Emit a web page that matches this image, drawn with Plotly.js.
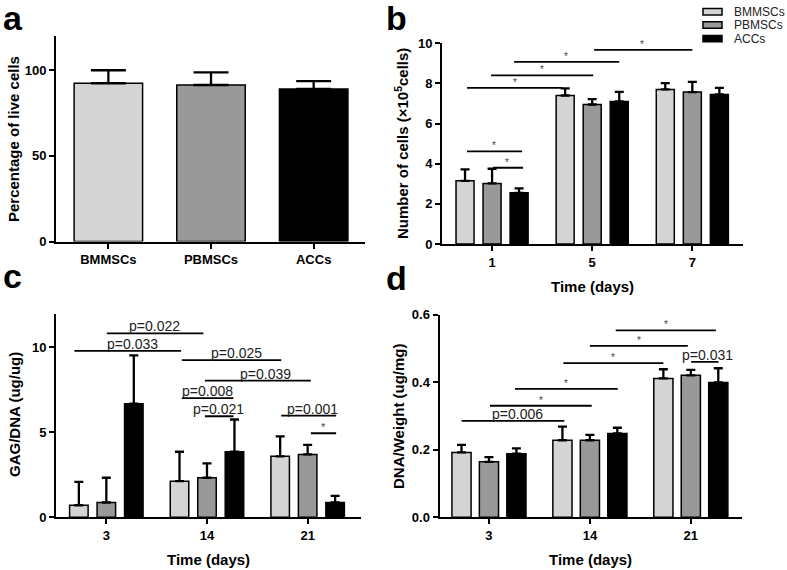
<!DOCTYPE html>
<html>
<head>
<meta charset="utf-8">
<script src="https://cdn.plot.ly/plotly-3.0.1.min.js"></script>
<style>html,body{margin:0;padding:0;background:#fff;}#chart{width:787px;height:570px;}</style>
</head>
<body>
<div id="chart"></div>
<script>
// ---------- DATA ----------
const seriesNames = ['BMMSCs', 'PBMSCs', 'ACCs'];

// Panel a: viability
const cellTypes = ['BMMSCs', 'PBMSCs', 'ACCs'];
const liveCells = [92.4, 91.4, 89.1];
const liveCellsErr = [7.6, 7.4, 4.6];

// Panel b: proliferation
const daysB = ['1', '5', '7'];
const cellsBM = [3.15, 7.4, 7.7];
const cellsPB = [3.02, 6.95, 7.57];
const cellsAC = [2.55, 7.1, 7.45];
const cellsBMErr = [0.57, 0.35, 0.32];
const cellsPBErr = [0.73, 0.27, 0.51];
const cellsACErr = [0.22, 0.48, 0.33];

// Panel c: GAG/DNA
const daysCD = ['3', '14', '21'];
const gagBM = [0.71, 2.13, 3.59];
const gagPB = [0.87, 2.33, 3.70];
const gagAC = [6.69, 3.86, 0.87];
const gagBMErr = [1.38, 1.73, 1.18];
const gagPBErr = [1.46, 0.84, 0.56];
const gagACErr = [2.85, 1.90, 0.39];

// Panel d: DNA/Weight
const dnaBM = [0.192, 0.228, 0.411];
const dnaPB = [0.164, 0.228, 0.420];
const dnaAC = [0.188, 0.248, 0.399];
const dnaBMErr = [0.022, 0.040, 0.027];
const dnaPBErr = [0.014, 0.016, 0.016];
const dnaACErr = [0.016, 0.017, 0.042];

// Significance brackets: [x0, x1, y, label, labelX]  (x in category-index units)
const sigB = [
  [-0.25, 0.70, 7.78, '*', 0.23],
  [-0.01, 1.01, 8.40, '*', 0.50],
  [0.22, 1.27, 9.07, '*', 0.74],
  [1.02, 2.00, 9.67, '*', 1.50],
  [-0.25, 0.30, 4.62, '*', 0.02],
  [0.01, 0.31, 3.80, '*', 0.15]
];
const sigC = [
  [0.005, 0.964, 10.83, 'p=0.022', 0.475],
  [-0.317, 0.743, 9.80, 'p=0.033', 0.261],
  [0.750, 1.737, 9.25, 'p=0.025', 1.290],
  [0.979, 2.032, 8.05, 'p=0.039', 1.578],
  [0.750, 1.263, 7.02, 'p=0.008', 1.006],
  [0.979, 1.263, 5.95, 'p=0.021', 1.111],
  [1.737, 2.283, 5.99, 'p=0.001', 2.045],
  [2.032, 2.283, 4.95, '*', 2.154]
];
const sigD = [
  [-0.271, 0.747, 0.285, 'p=0.006', 0.286],
  [0.010, 1.018, 0.330, '*', 0.514],
  [0.258, 1.276, 0.380, '*', 0.767],
  [0.737, 1.728, 0.456, '*', 1.232],
  [1.000, 1.970, 0.507, '*', 1.485],
  [1.256, 2.248, 0.553, '*', 1.752],
  [2.003, 2.274, 0.460, 'p=0.031', 2.162]
];

// ---------- STYLE ----------
const W = 787, H = 570;
const FONT = 'Liberation Sans, Arial, Helvetica, sans-serif';
const colors = ['#d4d4d4', '#999999', '#000000'];
const px = v => v / W;
const py = v => 1 - v / H;

function errBar(arr, w) {
  return {type: 'data', symmetric: false, array: arr, arrayminus: arr.map(() => 0),
          color: '#000', thickness: 2.3, width: w};
}

function groupTraces(xs, ys, errs, axX, axY, width, pitch) {
  return ys.map((y, i) => ({
    type: 'bar', x: xs, y: y, name: seriesNames[i],
    xaxis: axX, yaxis: axY,
    width: width, offset: (i - 1) * pitch - width / 2,
    marker: {color: colors[i], line: {color: '#000', width: 1.5}},
    error_y: errBar(errs[i], 4.5),
    showlegend: false, hoverinfo: 'skip'
  }));
}

const traces = [];
traces.push({
  type: 'bar', x: cellTypes, y: liveCells, xaxis: 'x', yaxis: 'y',
  width: 0.667,
  marker: {color: colors, line: {color: '#000', width: 1.5}},
  error_y: errBar(liveCellsErr, 17.5),
  showlegend: false, hoverinfo: 'skip'
});
traces.push(...groupTraces(daysB, [cellsBM, cellsPB, cellsAC], [cellsBMErr, cellsPBErr, cellsACErr], 'x2', 'y2', 0.18, 0.27));
traces.push(...groupTraces(daysCD, [gagBM, gagPB, gagAC], [gagBMErr, gagPBErr, gagACErr], 'x3', 'y3', 0.184, 0.273));
traces.push(...groupTraces(daysCD, [dnaBM, dnaPB, dnaAC], [dnaBMErr, dnaPBErr, dnaACErr], 'x4', 'y4', 0.19, 0.272));

const axisBase = {
  showline: true, linecolor: '#000', linewidth: 2,
  ticks: 'outside', ticklen: 5, tickwidth: 2, tickcolor: '#000',
  showgrid: false, zeroline: false, fixedrange: true,
  tickfont: {family: FONT, size: 13, weight: 'bold', color: '#000'}
};
const xa = (dom, anchor, range) => Object.assign({}, axisBase, {type: 'category', domain: dom, anchor: anchor, range: range});
const ya = (dom, anchor, range, dtick, fmt) => Object.assign({}, axisBase, {domain: dom, anchor: anchor, range: range, dtick: dtick, tick0: 0, tickformat: fmt || ''});

const shapes = [];
const annotations = [];

function addSig(list, xr, yr, pFont, starFont) {
  list.forEach(s => {
    shapes.push({type: 'line', xref: xr, yref: yr, x0: s[0], x1: s[1], y0: s[2], y1: s[2],
                 line: {color: '#000', width: 1.8}});
    const star = s[3] === '*';
    annotations.push({xref: xr, yref: yr, x: s[4], y: s[2], text: s[3], showarrow: false,
      xanchor: 'center', yanchor: 'bottom', yshift: star ? -2 : -3,
      font: {family: FONT, size: star ? starFont : pFont, color: star ? '#444' : '#222'}});
  });
}
addSig(sigB, 'x2', 'y2', 14, 10);
addSig(sigC, 'x3', 'y3', 14, 11);
addSig(sigD, 'x4', 'y4', 14, 10);

// panel letters
[['a', 1, 18], ['b', 384, 18], ['c', 1, 276], ['d', 384, 278]].forEach(l => {
  annotations.push({xref: 'paper', yref: 'paper', x: px(l[1]), y: py(l[2]), text: l[0], showarrow: false,
    xanchor: 'left', yanchor: 'middle', font: {family: FONT, size: 34, weight: 'bold', color: '#000'}});
});

// axis titles
const titleFont = {family: FONT, size: 15, weight: 'bold', color: '#000'};
[
  ['Percentage of live cells', 13, 139, -90],
  ['Number of cells (×10<sup>5</sup>cells)', 401, 143, -90],
  ['GAG/DNA (ug/ug)', 14, 415, -90],
  ['DNA/Weight (ug/mg)', 398, 416, -90],
  ['Time (days)', 592.5, 286, 0],
  ['Time (days)', 208.5, 559, 0],
  ['Time (days)', 590.8, 559, 0]
].forEach(t => {
  annotations.push({xref: 'paper', yref: 'paper', x: px(t[1]), y: py(t[2]), text: t[0], showarrow: false,
    textangle: t[3], xanchor: 'center', yanchor: 'middle', font: titleFont});
});

// legend (panel b)
const legRows = [11.7, 25.0, 38.6];
seriesNames.forEach((n, i) => {
  shapes.push({type: 'rect', xref: 'paper', yref: 'paper',
    x0: px(703), x1: px(722), y0: py(legRows[i] + 3.2), y1: py(legRows[i] - 3.2),
    fillcolor: colors[i], line: {color: '#000', width: 1.5}});
  annotations.push({xref: 'paper', yref: 'paper', x: px(731.5), y: py(legRows[i]), text: n, showarrow: false,
    xanchor: 'left', yanchor: 'middle', font: {family: FONT, size: 12, color: '#222'}});
});

const layout = {
  width: W, height: H,
  margin: {l: 0, r: 0, t: 0, b: 0},
  paper_bgcolor: '#fff', plot_bgcolor: 'rgba(0,0,0,0)',
  barmode: 'overlay', showlegend: false,
  font: {family: FONT, color: '#000'},
  xaxis: xa([px(56), px(365)], 'y', [-0.51, 2.5]),
  yaxis: ya([py(241.5), py(36)], 'x', [0, 120], 50),
  xaxis2: xa([px(442), px(743)], 'y2', [-0.5, 2.506]),
  yaxis2: ya([py(244), py(43.3)], 'x2', [0, 10], 2),
  xaxis3: xa([px(56), px(361)], 'y3', [-0.5, 2.53]),
  yaxis3: ya([py(517.3), py(313.5)], 'x3', [0, 12], 5),
  xaxis4: xa([px(439.5), px(742.3)], 'y4', [-0.49, 2.51]),
  yaxis4: ya([py(517.3), py(314.5)], 'x4', [0, 0.6], 0.2, '.1f'),
  shapes: shapes,
  annotations: annotations
};

Plotly.newPlot('chart', traces, layout, {displayModeBar: false, staticPlot: true});
</script>
</body>
</html>
